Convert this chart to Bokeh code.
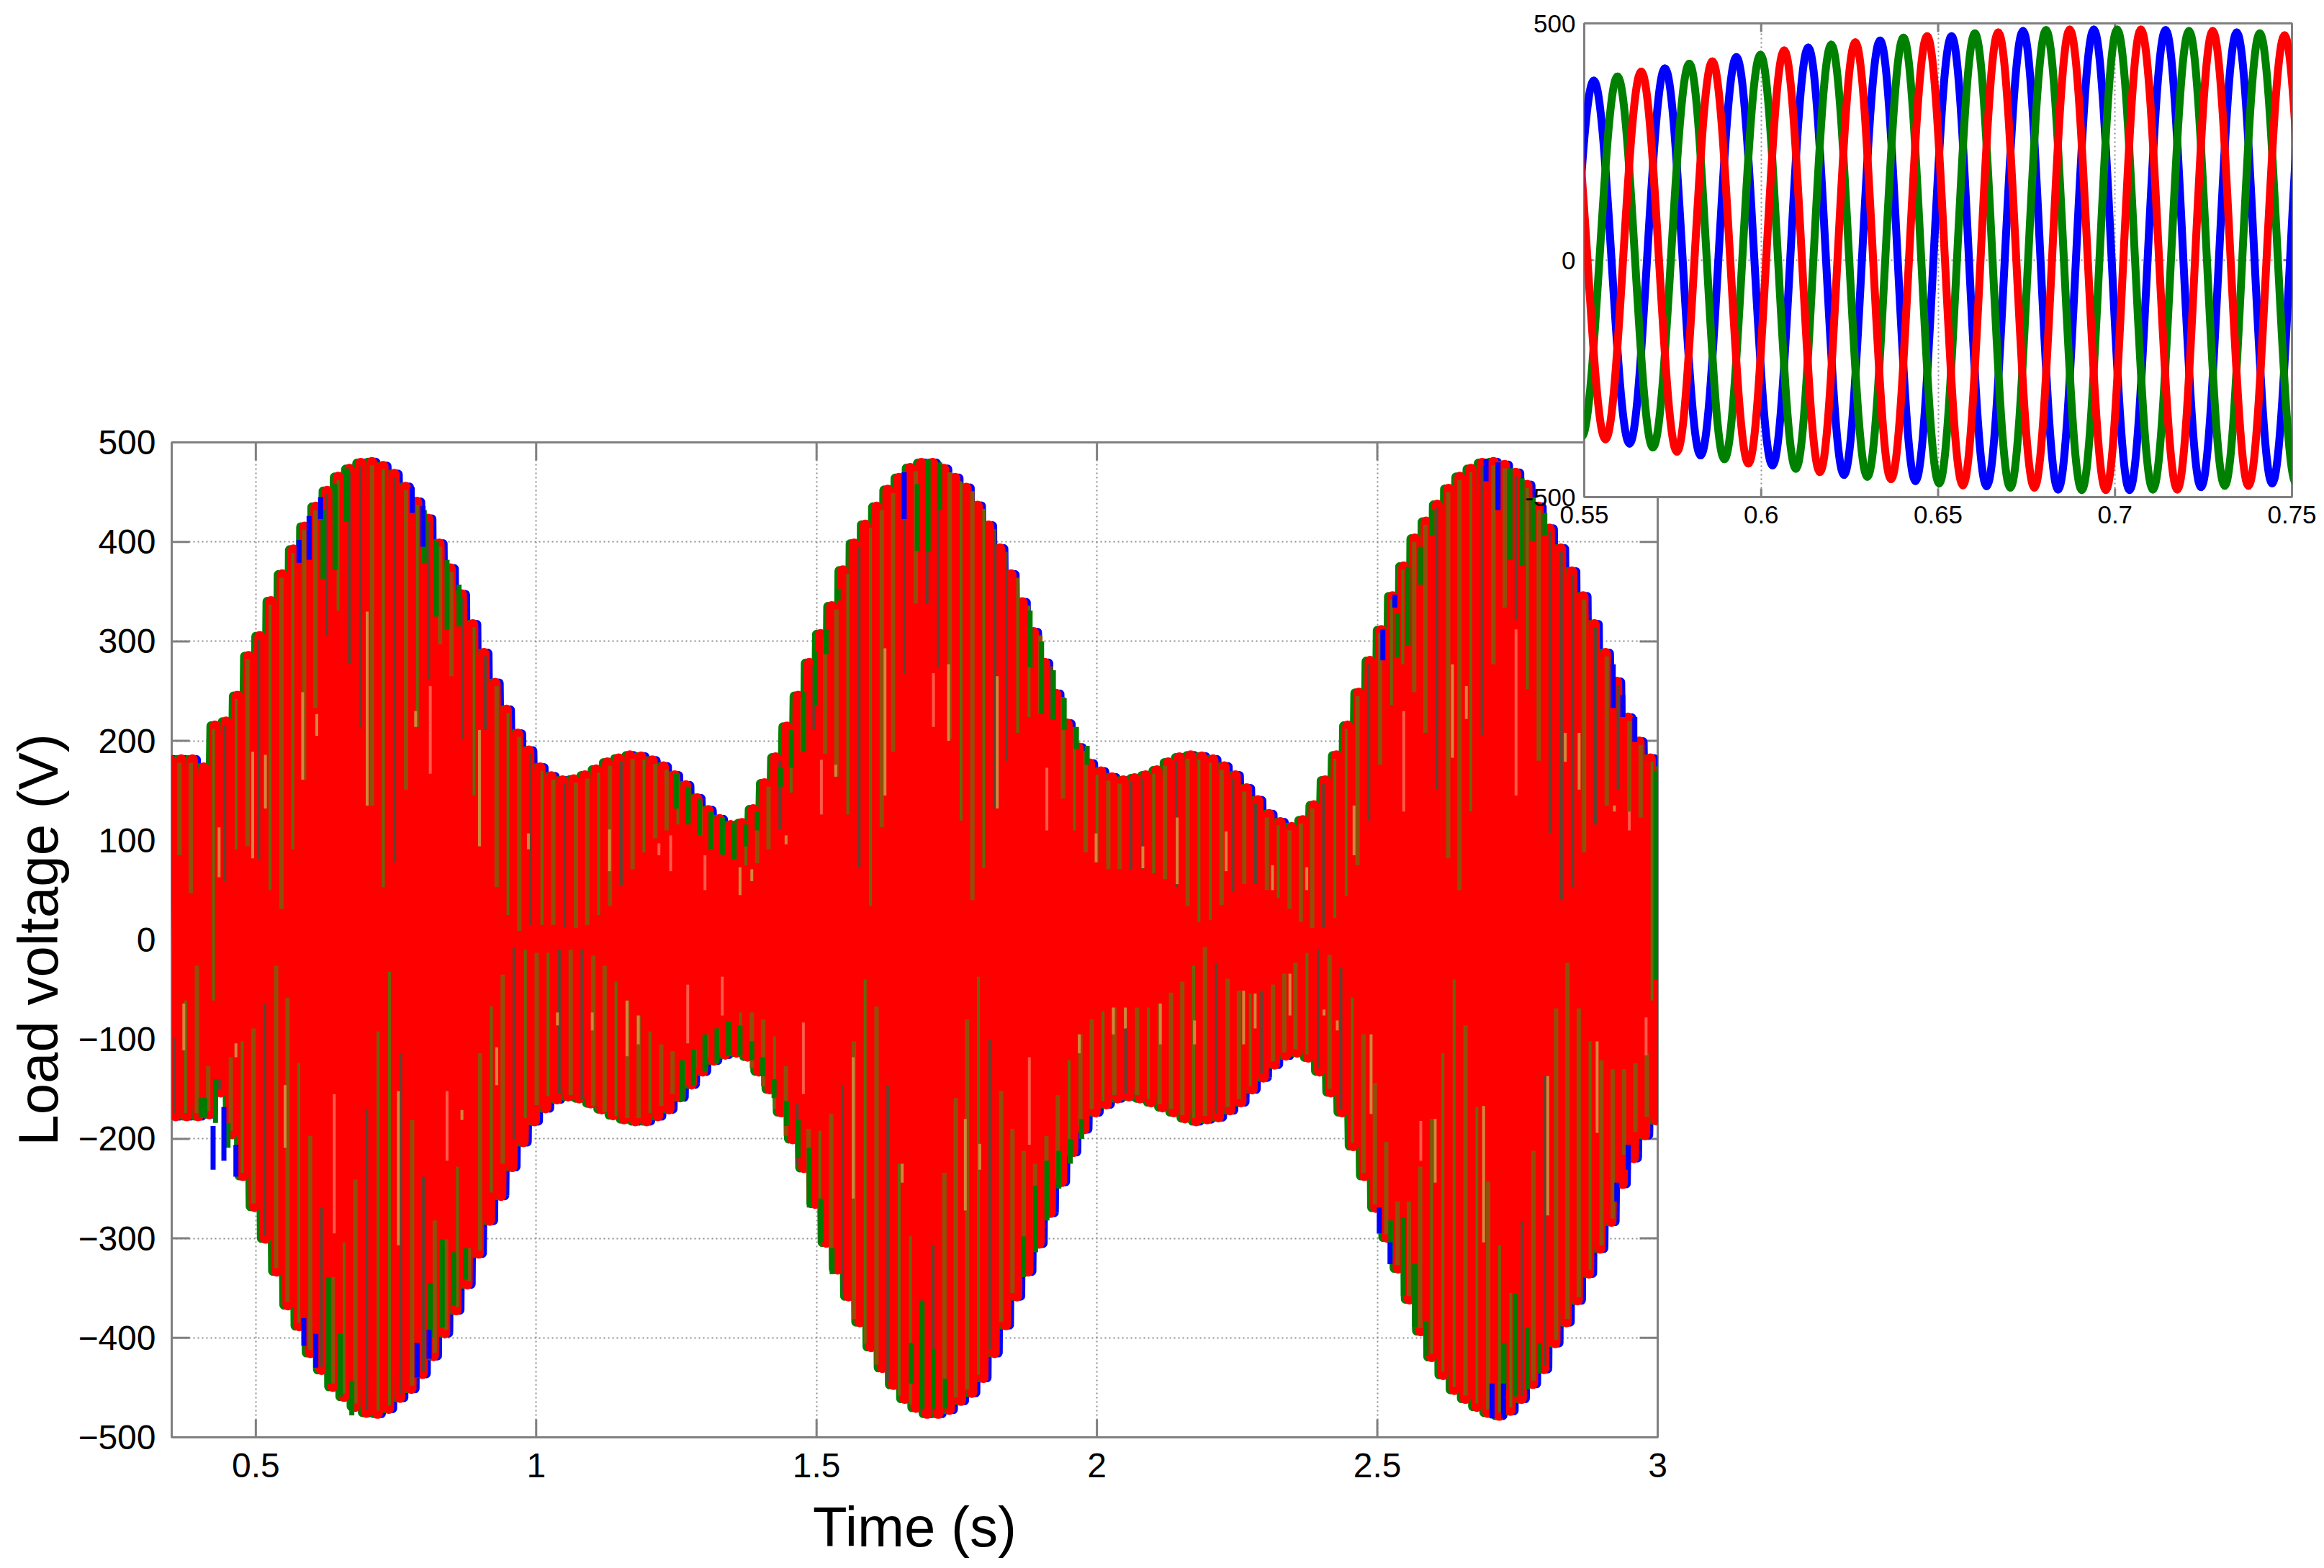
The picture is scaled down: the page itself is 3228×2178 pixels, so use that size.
import math

from bokeh.plotting import figure
from bokeh.embed import file_html
from bokeh.resources import INLINE
from bokeh.models import Column, FixedTicker

# tick labels
main_xticks = [0.5, 1, 1.5, 2, 2.5, 3]
main_xlabels = ["0.5", "1", "1.5", "2", "2.5", "3"]
main_yticks = [-500, -400, -300, -200, -100, 0, 100, 200, 300, 400, 500]
inset_xticks = [0.55, 0.6, 0.65, 0.7, 0.75]
inset_xlabels = ["0.55", "0.6", "0.65", "0.7", "0.75"]
inset_yticks = [-500, 0, 500]

# envelope of the load voltage, one value per cycle starting at 0.35 s
upper_env = [186, 186, 186, 178, 220, 224, 250, 290, 310, 345, 372, 397, 420, 440, 456, 470, 478, 484, 485, 481,
             473, 460, 445, 428, 403, 378, 352, 322, 293, 263, 236, 212, 195, 178,
             169, 165, 166, 170, 176, 183, 187, 190, 189, 185, 179, 170, 160, 147, 135, 126, 120, 122, 136, 162,
             188, 219, 250, 283, 312, 340, 376, 403, 422, 440, 457, 469, 479,
             484, 484, 478, 469, 459, 441, 421, 398, 372, 344, 314, 283, 252, 222, 198, 182, 174, 168, 165, 167,
             170, 175, 183, 188, 190, 189, 186, 179, 170, 157, 145, 131, 123, 118,
             125, 140, 165, 190, 220, 253, 285, 316, 350, 380, 408, 425, 442, 458, 470, 478, 484, 485, 482, 474,
             462, 440, 418, 398, 375, 350, 322, 293, 264, 228, 204, 187, 175]
lower_env = [-182, -182, -182, -180, -158, -200, -242, -273, -305, -338, -372, -393, -420, -437, -454, -464, -474, -480, -481, -476,
             -465, -456, -441, -423, -400, -377, -351, -320, -287, -262, -233, -208, -187, -174,
             -165, -162, -164, -169, -175, -181, -185, -187, -187, -182, -175, -163, -150, -137, -126, -120, -118, -122, -137, -155,
             -178, -205, -234, -270, -309, -336, -363, -389, -414, -435, -452, -466, -475,
             -481, -481, -477, -468, -460, -445, -420, -392, -363, -338, -310, -279, -248, -218, -195, -178, -170, -164, -162, -164,
             -168, -173, -178, -184, -187, -185, -183, -176, -168, -155, -143, -130, -121, -118,
             -123, -137, -158, -178, -212, -242, -274, -304, -335, -366, -398, -424, -442, -457, -466, -474, -480, -483, -478, -466,
             -451, -436, -410, -389, -367, -340, -315, -288, -250, -224, -201, -186, -175]

# how far the green shows through the red, per cycle, from the envelope inwards
upper_reach = [85, 47, None, -61, 59, 91, 94, 81, 50, 31, 91, 161, 233, 306, 331, 278, 214, 135, 53, 78, 151, 214, 262, 297,
               265, 202, 145, 211, 53, 25, 9, 15, 15,
               15, 12, 12, 15, 25, 34, 54, 71, 88, 102, 110, 116, 118, 105, 91, 85, 81, 75, 77, 91, 111, 148, 189, 211,
               187, 164, 126, 73, 34, 113, 189, 268, 338,
               338, 274, 202, 120, 40, 72, 132, 180, 208, 224, 227, 221, 142, 110, 88, 78, 71, 71, 71, 71, 67, 61, 53,
               34, 18, 20, 35, 48, 56, 56, 50, 42, 31,
               18, 12, 12, 22, 44, 75, 120, 176, 236, 277, 249, 208, 151, 82, 50, 129, 206, 277, 334, 322, 252, 180, 107,
               40, 53, 88, 116, 135, 151, 129, 123, -61]
lower_reach = [-99, -61, -26, -127, -140, -118, -102, -89, -64, -26, -58, -124, -197, -269, -339, -304, -241, -171, -92, -32,
               -114, -181, -238, -282, -301, -228, -310, -114, -67, -35, -7, -10, -13, -13,
               -10, -10, -9, -16, -26, -42, -61, -76, -92, -105, -112, -121, -110, -95, -89, -82, -73, -73, -80, -97, -127,
               -165, -190, -192, -175, -146, -102, -40, -67, -146, -225, -298,
               -361, -307, -234, -159, -80, -37, -100, -152, -190, -212, -225, -197, -156, -121, -95, -80, -72, -68, -68,
               -68, -68, -64, -53, -42, -26, -7, -24, -39, -51, -54, -51, -45, -34,
               -23, -13, -10, -15, -28, -58, -95, -144, -203, -263, -263, -228, -180, -114, -40, -86, -168, -243, -307, -355,
               -283, -212, -137, -69, -23, -69, -102, -121, -130, -130, -124, -114]
upper_kind = "bbbodobdobobbdoddbodbodbbdodbobdo" "bdbbobdbobbodbbdoobbdobdbbodobbdb" "ddboboddoobdbobobbddobdboobdbdbob" "bbdoobdboobbdbbodbbdobdddbdbdbbo"
lower_kind = "dobbdbobdbbobdbobdoodbdbbobbobdob" "odbdbbobbobboobboobbobdbobdbobdoo" "ddbbbodbbbbbbobbobdbobbbobdbbodbb" "bodbdobbbbbboooboboodbdbbbobbbbb"

# short runs of pure colour near the envelope: (time, from, to)
green_caps = [(0.6198, 432, 363), (0.6412, 458, 372), (0.6618, 474, 420), (0.8004, 432, 379), (0.8218, 401, 325),
              (0.8410, 382, 312), (0.8624, 357, 315), (1.2497, 167, 132), (1.271, 154, 116), (1.2912, 142, 105),
              (1.3117, 129, 91), (1.3323, 123, 86), (1.3532, 118, 81), (1.3738, 116, 94), (1.3943, 129, 110),
              (1.4358, 173, 154), (1.455, 211, 173), (1.4773, 249, 189), (1.4979, 290, 236), (1.517, 312, 287),
              (1.5385, 353, 341), (1.6797, 458, 391), (1.699, 483, 391), (1.7195, 480, 432), (1.8808, 331, 274),
              (1.9013, 300, 227), (1.9223, 271, 221), (1.9416, 243, 211), (1.9634, 214, 192), (1.9826, 195, 176),
              (2.5356, 328, 284), (2.5548, 375, 296), (2.5771, 395, 357), (2.5976, 432, 407), (2.7367, 474, 382),
              (2.7581, 464, 376), (2.7773, 445, 401), (2.7987, 429, 407),
              (0.4024, -159, -178), (0.4089, -159, -178), (0.4281, -140, -184), (0.4504, -184, -209), (0.6301, -339, -446),
              (0.6506, -396, -459), (0.6712, -443, -478), (0.8111, -345, -399), (0.8325, -301, -389), (0.8526, -314, -367),
              (0.8740, -310, -342), (1.2604, -121, -162), (1.2805, -110, -146), (1.301, -95, -133), (1.3224, -89, -124),
              (1.343, -82, -116), (1.3635, -86, -116), (1.3845, -102, -121), (1.4037, -118, -137), (1.4242, -140, -159),
              (1.4465, -162, -187), (1.467, -181, -219), (1.4871, -209, -269), (1.5077, -260, -304), (1.5278, -310, -336),
              (1.669, -405, -446), (1.6882, -364, -471), (1.7084, -411, -471), (1.7297, -441, -471), (1.8692, -298, -339),
              (1.8906, -247, -314), (1.9108, -222, -282), (1.9321, -212, -250), (1.9523, -200, -225), (1.9728, -180, -200),
              (2.524, -282, -320), (2.5463, -279, -358), (2.5664, -326, -389), (2.5869, -383, -418), (2.726, -405, -452),
              (2.7465, -355, -459), (2.7679, -389, -452), (2.7893, -405, -436), (2.9975, 170, -40)]
blue_caps = [(0.4238, -187, -231), (0.4431, -168, -222), (0.4645, -206, -238), (0.5856, -380, -408), (0.607, -396, -430),
             (0.7876, -405, -440), (0.809, -392, -421), (0.595, 426, 382), (0.6155, 445, 423), (0.577, 402, 379),
             (0.779, 455, 429), (0.7982, 436, 395), (1.6562, 470, 423), (2.7046, -446, -481), (2.7251, -446, -481),
             (2.9476, -206, -231), (2.9271, -244, -263), (2.5035, -269, -295), (2.5227, -304, -326), (2.6939, 483, 461),
             (2.7153, 480, 432), (2.5099, 312, 281), (2.5313, 347, 334), (2.9592, 224, 199), (2.9378, 246, 224),
             (2.9207, 277, 233)]
pale_streaks = [(0.6986, 330, 135), (0.5835, 249, 161), (0.6087, 227, 205), (0.4944, 189, 82), (0.5171, 186, 132),
                (0.4345, 113, 63), (0.8988, 211, 94), (0.785, 230, 214), (0.9861, 107, 91), (0.3716, -64, -111),
                (0.4645, -104, -118), (0.5522, -146, -209), (0.7542, -152, -307), (0.9296, -108, -146), (0.8676, -171, -181),
                (1.1307, 111, 69), (1.3635, 73, 45), (1.3845, 71, 59), (1.4456, 105, 96), (1.5342, 176, 164),
                (1.622, 293, 145), (1.0379, -73, -86), (1.1, -73, -91), (1.162, -61, -117), (1.1821, -76, -105),
                (1.5654, -118, -260), (1.6527, -225, -244), (1.7353, 277, 200), (1.8222, 265, 132), (1.9985, 107, 78),
                (2.0819, 94, 72), (2.1431, 123, 56), (2.2304, 109, 69), (2.313, 75, 50), (1.7653, -180, -272),
                (1.791, -205, -231), (1.9685, -95, -114), (2.0293, -68, -95), (2.0507, -68, -89), (2.1131, -64, -105),
                (2.174, -81, -105), (2.2616, -51, -105), (2.2822, -54, -89), (2.3442, -34, -76), (2.3742, 73, 50),
                (2.4585, 135, 85), (2.634, 277, 183), (2.6588, 255, 222), (2.8351, 208, 179), (2.8599, 208, 151),
                (2.9228, 135, 129), (2.405, -70, -76), (2.4286, -81, -91), (2.4889, -95, -175), (2.6032, -180, -244),
                (2.6896, -167, -304), (2.8039, -137, -277), (2.892, -102, -194)]
pink_streaks = [(0.8111, 255, 167), (0.6399, -155, -295), (0.841, -152, -222), (1.2189, 97, 85), (1.2398, 105, 69),
                (1.301, 85, 50), (1.5086, 181, 126), (1.2702, -45, -104), (1.3318, -37, -76), (1.4765, -83, -155),
                (1.7084, 268, 214), (1.9107, 173, 110), (1.8795, -118, -206), (2.5471, 230, 129), (2.7474, 312, 145),
                (2.9494, 129, 110), (2.5775, -182, -222), (2.9793, -78, -116)]

# inset: turning points of each phase, 0.55 s to 0.75 s
blue_t = [0.5426, 0.5527, 0.5628, 0.5728, 0.5829, 0.5930, 0.6032, 0.6133, 0.6234, 0.6336, 0.6436, 0.6538, 0.6637, 0.6740, 0.6839,
          0.6940, 0.7041, 0.7143, 0.7243, 0.7344, 0.7444, 0.7545]
blue_v = [-365, 379, -387, 405, -412, 429, -433, 449, -453, 464, -466, 473, -477, 484, -484, 487, -485, 486, -479, 481, -471, 470]
green_t = [0.5493, 0.5594, 0.5694, 0.5797, 0.5896, 0.5998, 0.6098, 0.6198, 0.6300, 0.6402, 0.6503, 0.6604, 0.6704, 0.6805, 0.6906,
           0.7006, 0.7107, 0.7209, 0.7310, 0.7409, 0.7511]
green_v = [-372, 388, -395, 415, -420, 434, -440, 455, -457, 470, -471, 479, -480, 486, -485, 487, -484, 484, -476, 479, -470]
red_t = [0.5459, 0.5560, 0.5661, 0.5762, 0.5862, 0.5964, 0.6065, 0.6166, 0.6266, 0.6367, 0.6469, 0.6570, 0.6670, 0.6772, 0.6872,
         0.6974, 0.7073, 0.7176, 0.7276, 0.7377, 0.7479, 0.7580]
red_v = [372, -378, 398, -404, 420, -429, 443, -447, 460, -462, 473, -475, 481, -480, 487, -485, 487, -484, 484, -476, 475, -468]

FIRST_CYCLE = 0.35
PERIOD = 0.02
STRIPE_PERIOD = 0.0202
FONT = "Liberation Sans"
FRAME_GREY = "#808080"
GRID_GREY = "#8c8c8c"


def style_axes(fig, xticks, xlabels, yticks, ylabels, size, tick_len, standoff):
    fig.xaxis.ticker = FixedTicker(ticks=xticks)
    fig.xaxis.major_label_overrides = dict(zip(xticks, xlabels))
    fig.yaxis.ticker = FixedTicker(ticks=yticks)
    fig.yaxis.major_label_overrides = dict(zip(yticks, ylabels))
    for ax in fig.axis:
        ax.axis_line_color = None
        ax.major_tick_line_color = None
        ax.minor_tick_line_color = None
        ax.major_label_text_font = FONT
        ax.major_label_text_font_size = size
        ax.major_label_text_color = "black"
        ax.major_label_standoff = standoff
    fig.xgrid.ticker = FixedTicker(ticks=xticks)
    fig.ygrid.ticker = FixedTicker(ticks=yticks)
    fig.grid.grid_line_color = GRID_GREY
    fig.grid.grid_line_width = 2
    fig.grid.grid_line_dash = "2 4"
    fig.outline_line_color = FRAME_GREY
    fig.outline_line_width = 3
    # matlab box ticks, inside on all four sides, drawn before the traces so red covers them
    # the frame clips the outer half of each dash
    xmin, xmax = fig.x_range.start, fig.x_range.end
    ymin, ymax = fig.y_range.start, fig.y_range.end
    for edge in (xmin, xmax):
        fig.scatter(x=[edge] * len(yticks), y=yticks, marker="dash", size=tick_len * 2,
                    line_color=FRAME_GREY, line_width=3)
    for edge in (ymin, ymax):
        fig.scatter(x=xticks, y=[edge] * len(xticks), marker="dash", size=tick_len * 2, angle=math.pi / 2,
                    line_color=FRAME_GREY, line_width=3)


def envelope_at(env, t):
    return env[min(round((t - FIRST_CYCLE) / PERIOD), len(env) - 1)]


def add_runs(fig, runs, color, width):
    fig.segment(x0=[r[0] for r in runs], y0=[r[1] for r in runs], x1=[r[0] for r in runs], y1=[r[2] for r in runs],
                line_color=color, line_width=width)


def zigzag(fig, shift, color, width, next_cycle):
    # next_cycle: this phase peaks closer to the following red peak, so it takes that cycle's height
    xs, ys = [], []
    for i in range(len(upper_env)):
        j = min(i + next_cycle, len(upper_env) - 1)
        xs += [FIRST_CYCLE + PERIOD * i + shift, FIRST_CYCLE + PERIOD * (i + 0.5) + shift]
        ys += [upper_env[j] - 5, lower_env[j] + 5]
    fig.line(xs, ys, line_color=color, line_width=width, line_join="round", line_cap="round")


# main plot
p = figure(width=2342, height=2162, frame_width=2064, frame_height=1382, min_border_left=238, min_border_top=614,
           min_border_right=40, min_border_bottom=166, x_range=(0.35, 3), y_range=(-500, 500),
           output_backend="svg", toolbar_location=None)
p.border_fill_color = None
style_axes(p, main_xticks, main_xlabels, main_yticks, ["\u2212" + str(-v) if v < 0 else str(v) for v in main_yticks],
           "48px", 25, 16)
p.xaxis[0].axis_label = "Time (s)"
p.yaxis[0].axis_label = "Load voltage (V)"
p.xaxis[0].axis_label_standoff = 22
p.yaxis[0].axis_label_standoff = 8
for ax in p.axis:
    ax.axis_label_text_font = FONT
    ax.axis_label_text_font_size = "78px"
    ax.axis_label_text_font_style = "normal"
    ax.axis_label_text_color = "black"

zigzag(p, 0.0037, "#0000ff", 13, 0)
zigzag(p, 0.0103, "#008000", 13, 1)
zigzag(p, -0.003, "#ff0000", 15, 0)

kind_colors = {"b": "#90500a", "o": "#64680a", "d": "#5e4430"}
kind_widths = {"b": 6, "o": 4, "d": 4}
for reach, kinds, env, shift, edge in [(upper_reach, upper_kind, upper_env, 0.0139, -8),
                                       (lower_reach, lower_kind, lower_env, 0.0045, 8)]:
    x, y0, y1, colors, widths = [], [], [], [], []
    for k, v in enumerate(reach):
        if v is None:
            continue
        t = FIRST_CYCLE + shift + STRIPE_PERIOD * k
        x.append(t)
        y0.append(envelope_at(env, t) + edge)
        y1.append(v)
        colors.append(kind_colors[kinds[k % len(kinds)]])
        widths.append(kind_widths[kinds[k % len(kinds)]])
    p.segment(x0=x, y0=y0, x1=x, y1=y1, line_color=colors, line_width=widths)

add_runs(p, green_caps, "#007a00", 7)
add_runs(p, blue_caps, "#0000ff", 7)
add_runs(p, pale_streaks, "#d0883c", 4)
add_runs(p, pink_streaks, "#ff5a4a", 4)

# inset, sits on top of the main plot's corner. Column lines its left border up with the main plot
inset = figure(width=1261, height=732, frame_width=983, frame_height=658, min_border_left=238, min_border_top=32,
               min_border_right=40, min_border_bottom=42, x_range=(0.55, 0.75), y_range=(-500, 500),
               output_backend="svg", toolbar_location=None)
inset.border_fill_color = None
inset.background_fill_color = "white"
style_axes(inset, inset_xticks, inset_xlabels, inset_yticks, ["-500", "0", "500"], "35px", 12, 6)
inset.styles = {"position": "absolute", "left": "1962px", "top": "0px"}

for ts, vs, color in [(blue_t, blue_v, "#0000ff"), (green_t, green_v, "#008000"), (red_t, red_v, "#ff0000")]:
    # half cycles between turning points, flat tangent at each end
    gaps = [b - a for a, b in zip(ts[:-1], ts[1:])]
    inset.bezier(x0=ts[:-1], y0=vs[:-1], x1=ts[1:], y1=vs[1:],
                 cx0=[a + 0.3642 * g for a, g in zip(ts[:-1], gaps)], cy0=vs[:-1],
                 cx1=[b - 0.3642 * g for b, g in zip(ts[1:], gaps)], cy1=vs[1:],
                 line_color=color, line_width=11, line_cap="round")

page = Column(p, inset)
open("out.html", "w").write(file_html(page, INLINE))
